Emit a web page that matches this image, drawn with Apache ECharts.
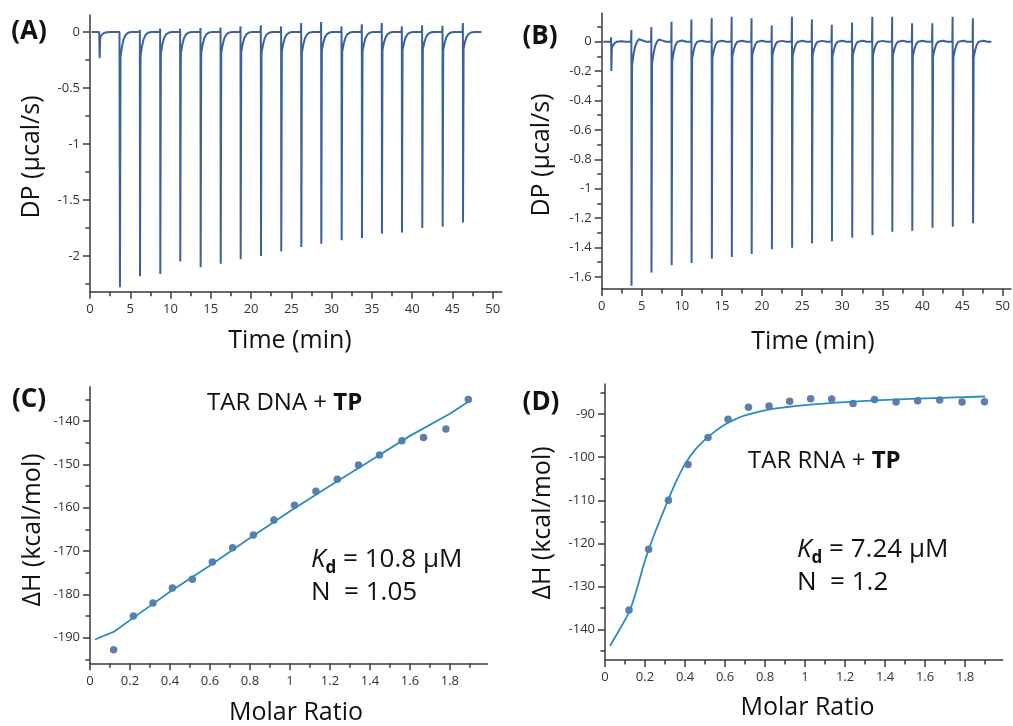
<!DOCTYPE html>
<html>
<head>
<meta charset="utf-8">
<script src="https://cdn.jsdelivr.net/npm/echarts@6/dist/echarts.min.js"></script>
<style>
  html, body { margin: 0; padding: 0; background: #ffffff; }
  #chart { width: 1013px; height: 726px; }
</style>
</head>
<body>
<div id="chart"></div>
<script>
// ---- Raw ITC thermograms (A: TAR DNA, B: TAR RNA) ----
// injection schedule shared by both titrations (min)
const injectionTimes = [1.2, 3.72, 6.21, 8.73, 11.21, 13.74, 16.23, 18.71, 21.23, 23.75, 26.24, 28.72, 31.25, 33.77, 36.25, 38.74, 41.26, 43.79, 46.32];
const traceSpan = [0.2, 48.6];

// (A) peak minima, post-peak shoulder and pre-peak overshoot (µcal/s)
const peakMinA = [-0.235, -2.28, -2.18, -2.16, -2.05, -2.10, -2.07, -2.03, -2.00, -1.96, -1.92, -1.89, -1.86, -1.84, -1.80, -1.79, -1.75, -1.74, -1.70];
const shoulderA = [-0.04, -0.22, -0.21, -0.19, -0.19, -0.185, -0.185, -0.18, -0.19, -0.17, -0.185, -0.16, -0.175, -0.17, -0.16, -0.16, -0.155, -0.16, -0.145];
const overshootA = [0.0, 0.01, 0.02, 0.03, 0.03, 0.035, 0.04, 0.05, 0.06, 0.05, 0.08, 0.09, 0.05, 0.07, 0.08, 0.05, 0.06, 0.055, 0.08];
// return to baseline after each injection: [min after injection, fraction of shoulder]
const recoveryA = [[0.25, 0.6], [0.45, 0.3], [0.7, 0.12], [1.0, 0.03], [1.4, 0]];

// (B)
const peakMinB = [-0.2, -1.66, -1.57, -1.52, -1.505, -1.476, -1.465, -1.444, -1.412, -1.401, -1.372, -1.358, -1.333, -1.317, -1.293, -1.286, -1.265, -1.258, -1.235];
const shoulderB = [-0.04, -0.16, -0.15, -0.13, -0.115, -0.11, -0.10, -0.095, -0.09, -0.095, -0.09, -0.10, -0.095, -0.09, -0.095, -0.10, -0.10, -0.11, -0.11];
const overshootB = [0.03, 0.08, 0.10, 0.135, 0.15, 0.16, 0.17, 0.16, 0.11, 0.17, 0.15, 0.115, 0.13, 0.17, 0.17, 0.125, 0.125, 0.17, 0.16];
const recoveryB = [[0.25, 0.55], [0.45, 0.2], [0.7, 0], [0.9, -0.1], [1.3, -0.06], [1.8, 0]];

// ---- Integrated heats and fits ----
// (C) TAR DNA + TP
const ratioC = [0.118, 0.217, 0.315, 0.412, 0.512, 0.612, 0.713, 0.817, 0.92, 1.023, 1.13, 1.237, 1.343, 1.448, 1.56, 1.668, 1.78, 1.892];
const heatC = [-192.8, -185.0, -182.0, -178.5, -176.5, -172.5, -169.2, -166.3, -162.8, -159.4, -156.2, -153.4, -150.1, -147.8, -144.5, -143.8, -141.8, -135.0];
const fitRatioC = [0.025, 0.12, 0.22, 0.4, 0.6, 0.8, 1.0, 1.2, 1.4, 1.6, 1.8, 1.892];
const fitHeatC = [-190.4, -188.6, -185.3, -179.4, -173.3, -167.0, -160.8, -154.9, -149.2, -143.4, -138.3, -135.5];

// (D) TAR RNA + TP
const ratioD = [0.12, 0.218, 0.317, 0.415, 0.515, 0.615, 0.717, 0.82, 0.923, 1.028, 1.133, 1.24, 1.347, 1.455, 1.563, 1.673, 1.785, 1.897];
const heatD = [-135.5, -121.4, -110.0, -101.7, -95.4, -91.2, -88.4, -88.1, -87.0, -86.4, -86.5, -87.5, -86.6, -87.2, -86.9, -86.7, -87.2, -87.1];
const fitRatioD = [0.025, 0.12, 0.16, 0.2, 0.25, 0.3, 0.35, 0.4, 0.45, 0.5, 0.55, 0.6, 0.65, 0.7, 0.8, 0.9, 1.0, 1.2, 1.5, 1.9];
const fitHeatD = [-143.8, -136.0, -130.5, -124.0, -117.5, -111.7, -106.2, -101.6, -98.3, -95.9, -94.0, -92.4, -91.2, -90.3, -89.1, -88.4, -87.9, -87.2, -86.5, -85.9];

// ---- Tick values ----
const timeTicks = [0, 5, 10, 15, 20, 25, 30, 35, 40, 45, 50];
const timeMinor = [2.5, 7.5, 12.5, 17.5, 22.5, 27.5, 32.5, 37.5, 42.5, 47.5];
const dpTicksA = [0, -0.5, -1, -1.5, -2];
const dpMinorA = [-0.25, -0.75, -1.25, -1.75, -2.25];
const dpTicksB = [0, -0.2, -0.4, -0.6, -0.8, -1, -1.2, -1.4, -1.6];
const dpMinorB = [0.1, -0.1, -0.3, -0.5, -0.7, -0.9, -1.1, -1.3, -1.5];
const ratioTicks = [0, 0.2, 0.4, 0.6, 0.8, 1, 1.2, 1.4, 1.6, 1.8];
const ratioMinor = [0.1, 0.3, 0.5, 0.7, 0.9, 1.1, 1.3, 1.5, 1.7, 1.9];
const heatTicksC = [-140, -150, -160, -170, -180, -190];
const heatMinorC = [-135, -145, -155, -165, -175, -185, -195];
const heatTicksD = [-90, -100, -110, -120, -130, -140];
const heatMinorD = [-85, -95, -105, -115, -125, -135, -145];

// ---- Build the thermogram polyline from the per-injection readings ----
function buildTrace(mins, shoulders, overs, recovery) {
  const pts = [[traceSpan[0], 0]];
  injectionTimes.forEach((t, i) => {
    pts.push([t - 0.06, 0]);
    pts.push([t - 0.02, overs[i]]);
    pts.push([t, mins[i]]);
    pts.push([t + 0.07, shoulders[i]]);
    recovery.forEach(([dt, f]) => pts.push([t + dt, shoulders[i] * f]));
  });
  pts.push([traceSpan[1], 0]);
  return pts;
}
const zip = (xs, ys) => xs.map((x, i) => [x, ys[i]]);

const FONT = '"Open Sans", "Noto Sans", sans-serif';
const AXIS_COLOR = '#3a3a3a';
const TRACE_COLOR = '#3a6198';
const FIT_COLOR = '#2b8cc2';
const DOT_COLOR = '#3b5d96';

const panels = [
  { grid: { left: 90, top: 15, width: 411.7, height: 276.7 }, x: [0, 51.12], y: [-2.319, 0.152],
    xMajor: timeTicks, xMinor: timeMinor, yMajor: dpTicksA, yMinor: dpMinorA },
  { grid: { left: 601.7, top: 13.3, width: 411.3, height: 275.7 }, x: [0, 51.04], y: [-1.682, 0.193],
    xMajor: timeTicks, xMinor: timeMinor, yMajor: dpTicksB, yMinor: dpMinorB },
  { grid: { left: 90, top: 386.7, width: 397.3, height: 276.6 }, x: [0, 1.987], y: [-195.9, -132.05],
    xMajor: ratioTicks, xMinor: ratioMinor, yMajor: heatTicksC, yMinor: heatMinorC },
  { grid: { left: 605, top: 384, width: 397.7, height: 276 }, x: [0, 1.988], y: [-147.1, -83.0],
    xMajor: ratioTicks, xMinor: ratioMinor, yMajor: heatTicksD, yMinor: heatMinorD }
];

function axisPair(dim, gridIndex, range, major, minor) {
  const position = dim === 'x' ? 'bottom' : 'left';
  const base = { type: 'value', gridIndex, min: range[0], max: range[1], position, splitLine: { show: false } };
  return [
    Object.assign({}, base, {
      axisLine: { show: true, onZero: false, lineStyle: { color: AXIS_COLOR, width: 1.5 } },
      axisTick: { show: true, customValues: major, length: 7, lineStyle: { color: AXIS_COLOR, width: 1.5 } },
      axisLabel: { show: true, customValues: major, color: '#333', fontFamily: FONT, fontSize: 13,
                   margin: dim === 'x' ? 11 : 10 }
    }),
    Object.assign({}, base, {
      axisLine: { show: false, onZero: false },
      axisTick: { show: true, customValues: minor, length: 4.5, lineStyle: { color: AXIS_COLOR, width: 1.5 } },
      axisLabel: { show: false }
    })
  ];
}

const grids = [], xAxes = [], yAxes = [];
panels.forEach((p, i) => {
  grids.push(Object.assign({ containLabel: false }, p.grid));
  xAxes.push(...axisPair('x', i, p.x, p.xMajor, p.xMinor));
  yAxes.push(...axisPair('y', i, p.y, p.yMajor, p.yMinor));
});

const series = [
  { type: 'line', xAxisIndex: 0, yAxisIndex: 0, data: buildTrace(peakMinA, shoulderA, overshootA, recoveryA),
    showSymbol: false, lineStyle: { color: TRACE_COLOR, width: 2 }, itemStyle: { color: TRACE_COLOR } },
  { type: 'line', xAxisIndex: 2, yAxisIndex: 2, data: buildTrace(peakMinB, shoulderB, overshootB, recoveryB),
    showSymbol: false, lineStyle: { color: TRACE_COLOR, width: 2 }, itemStyle: { color: TRACE_COLOR } },
  { type: 'line', xAxisIndex: 4, yAxisIndex: 4, data: zip(fitRatioC, fitHeatC),
    showSymbol: false, lineStyle: { color: FIT_COLOR, width: 1.8 }, itemStyle: { color: FIT_COLOR } },
  { type: 'scatter', xAxisIndex: 4, yAxisIndex: 4, data: zip(ratioC, heatC), symbolSize: 7.5,
    itemStyle: { color: DOT_COLOR } },
  { type: 'line', xAxisIndex: 6, yAxisIndex: 6, data: zip(fitRatioD, fitHeatD), smooth: 0.3,
    showSymbol: false, lineStyle: { color: FIT_COLOR, width: 1.8 }, itemStyle: { color: FIT_COLOR } },
  { type: 'scatter', xAxisIndex: 6, yAxisIndex: 6, data: zip(ratioD, heatD), symbolSize: 7.5,
    itemStyle: { color: DOT_COLOR } }
];

// ---- Text annotations ----
function txt(text, x, y, size, opts) {
  return Object.assign({ type: 'text', x, y, silent: true,
    style: Object.assign({ text, fill: '#111', font: `${size}px ${FONT}`, textAlign: 'center', textVerticalAlign: 'middle' },
      (opts && opts.style) || {}) }, (opts && opts.el) || {});
}
function vtitle(text, x, y) {
  return txt(text, x, y, 25, { el: { rotation: Math.PI / 2 } });
}
function bindingLabel(text, x, y) {
  return { type: 'text', x, y, silent: true, style: {
    text: `{a|${text} + }{b|TP}`, textAlign: 'left', textVerticalAlign: 'middle',
    rich: {
      a: { fontFamily: FONT, fontSize: 24, fill: '#111', color: '#111' },
      b: { fontFamily: FONT, fontSize: 24, fontWeight: 'bold', fill: '#111', color: '#111' }
    } } };
}
function kdLabel(value, x, y) {
  return { type: 'text', x, y, silent: true, style: {
    text: `{k|K}{d|d}{r| = ${value} µM}`, textAlign: 'left', textVerticalAlign: 'middle',
    rich: {
      k: { fontFamily: FONT, fontSize: 26, fontStyle: 'italic', lineHeight: 34, fill: '#111', color: '#111' },
      d: { fontFamily: FONT, fontSize: 17, fontWeight: 'bold', lineHeight: 17, verticalAlign: 'bottom', fill: '#111', color: '#111' },
      r: { fontFamily: FONT, fontSize: 26, lineHeight: 34, fill: '#111', color: '#111' }
    } } };
}
function nLabel(value, x, y) {
  return txt(`N  = ${value}`, x, y, 26, { style: { textAlign: 'left' } });
}

const graphic = [
  txt('(A)', 29, 32, 26, { style: { font: `bold 26px ${FONT}` } }),
  txt('(B)', 540, 37, 26, { style: { font: `bold 26px ${FONT}` } }),
  txt('(C)', 29, 400, 26, { style: { font: `bold 26px ${FONT}` } }),
  txt('(D)', 541, 403, 26, { style: { font: `bold 26px ${FONT}` } }),
  vtitle('DP (µcal/s)', 32, 157),
  vtitle('DP (µcal/s)', 542, 155),
  vtitle('ΔH (kcal/mol)', 32.5, 530),
  vtitle('ΔH (kcal/mol)', 542.5, 523),
  txt('Time (min)', 290, 341, 25),
  txt('Time (min)', 813, 342, 25),
  txt('Molar Ratio', 296, 713, 25),
  txt('Molar Ratio', 807.5, 708, 25),
  bindingLabel('TAR DNA', 207, 403),
  bindingLabel('TAR RNA', 748, 461),
  kdLabel('10.8', 311, 560),
  nLabel('1.05', 311, 593),
  kdLabel('7.24', 797, 550),
  nLabel('1.2', 797, 583)
];

const chart = echarts.init(document.getElementById('chart'), null, { renderer: 'canvas' });
chart.setOption({
  animation: false,
  backgroundColor: '#ffffff',
  grid: grids,
  xAxis: xAxes,
  yAxis: yAxes,
  series,
  graphic: { elements: graphic }
});
</script>
</body>
</html>
